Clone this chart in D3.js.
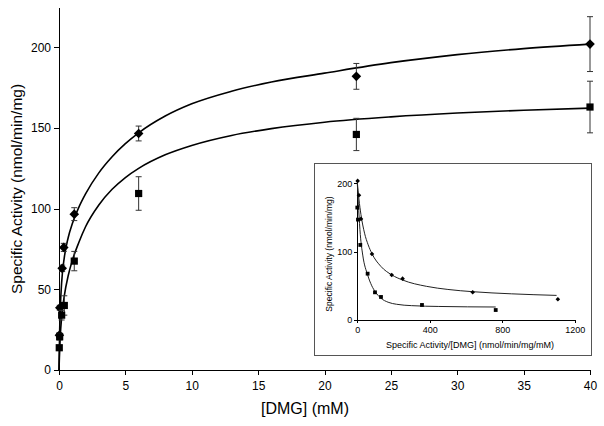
<!DOCTYPE html>
<meta charset="utf-8">
<body style="margin:0;background:#fff">
<script src="https://cdn.jsdelivr.net/npm/d3@7"></script>

<style>
text { font-family: "Liberation Sans", Arial, sans-serif; fill: #000; }
.axis path, .axis line { stroke: #000; stroke-width: 1; shape-rendering: crispEdges; }
.axis text { font-size: 12px; }
.inset .axis text { font-size: 9px; }
</style>

<svg id="thesvg" width="604" height="426"></svg>

<script>
// main plot: activity vs [DMG]
var dmgDiamond = [0.03, 0.06, 0.24, 0.36, 1.15, 6, 22.4, 40];
var actDiamond = [21.6, 38.6, 63, 76, 96.6, 146.6, 182, 202];
var errDiamond = [1.5, 1.5, 2, 2.5, 4, 4.6, 8, 17];

var dmgSquare = [0.02, 0.05, 0.2, 0.4, 1.15, 6, 22.4, 40];
var actSquare = [13.8, 20.6, 34, 40, 67.5, 109.4, 146, 163];
var errSquare = [1.5, 2, 3, 6, 6, 10.4, 10, 16];

// fitted curves
var fitDmg = [0, 0.05, 0.1, 0.2, 0.4, 0.7, 1, 1.5, 2, 3, 4, 5, 6, 8, 10, 13, 16, 20, 25, 30, 35, 40];
var fitAct1 = [0, 24.6, 38.6, 54.3, 69.8, 82.3, 90.6, 101, 109.2, 122.2, 132.2, 140.3, 147, 157.4, 165, 172.8, 178.5, 184, 190.5, 195.5, 199.2, 202];
var fitAct2 = [0, 13.1, 21.6, 32.7, 46, 58.7, 67.8, 79.2, 88.8, 102.3, 112, 119.3, 125, 133.4, 139.2, 145.4, 149.6, 153.6, 156.9, 159.3, 161, 162.3];

var xTicks = [0, 5, 10, 15, 20, 25, 30, 35, 40];
var yTicks = [0, 50, 100, 150, 200];

// inset: Eadie-Hofstee
var ehxDiamond = [2, 9.2, 20.3, 81, 190, 250, 637, 1107];
var ehyDiamond = [203.5, 182.5, 147.9, 96.6, 65.9, 60.5, 40.5, 30.3];
var ehxSquare = [0, 3.7, 16.6, 57, 97.6, 130.8, 357, 764];
var ehySquare = [164.5, 146.9, 109.8, 67.8, 40.5, 33.7, 22, 14.6];

var ehFitX1 = [0, 9, 20, 40, 60, 81, 130, 190, 250, 383, 500, 637, 850, 1100];
var ehFitY1 = [202, 177, 154.5, 127, 110, 97, 78.5, 66, 58.5, 49.2, 44.7, 41.4, 38.3, 36];
var ehFitX2 = [0, 8, 16.6, 30, 57, 80, 100, 130, 170, 217, 300, 450, 764];
var ehFitY2 = [200, 160, 125, 95, 66, 50, 41, 32, 26, 23, 21, 19.8, 19];

var ehxTicks = [0, 400, 800, 1200];
var ehyTicks = [0, 100, 200];

var tr = function(w, h, ang){
  ang = ang || 0
  return "translate(" + w + "," + h + ") rotate(" + ang + ")"
}

var svg = d3.select('#thesvg');

var x = d3.scaleLinear().domain([0, 40]).range([59, 590]);
var y = d3.scaleLinear().domain([0, 225]).range([370, 7]);

svg.append('g').attr('class', 'axis')
   .attr('transform', tr(0, 370))
   .call(d3.axisBottom(x).tickValues(xTicks).tickSize(5).tickSizeOuter(0).tickPadding(6));

svg.append('g').attr('class', 'axis')
   .attr('transform', tr(59, 0))
   .call(d3.axisLeft(y).tickValues(yTicks).tickSize(5).tickSizeOuter(0).tickPadding(3));

svg.selectAll('.axis text').attr('font-family', null);

svg.append('text').attr('transform', tr(22, 189, -90))
   .attr('text-anchor', 'middle').style('font-size', '15.5px')
   .text('Specific Activity (nmol/min/mg)');

svg.append('text').attr('transform', tr(305, 414))
   .attr('text-anchor', 'middle').style('font-size', '16px')
   .text('[DMG] (mM)');

var zipped = function(xs, ys){ return xs.map(function(d, i){ return [d, ys[i]] }) }

var line = d3.line().x(function(d){ return x(d[0]) }).y(function(d){ return y(d[1]) })
             .curve(d3.curveMonotoneX);

[fitAct1, fitAct2].forEach(function(c){
  svg.append('path').attr('d', line(zipped(fitDmg, c)))
     .attr('fill', 'none').attr('stroke', '#000').attr('stroke-width', 1.6);
});

var diamond = function(r){ return 'M0,' + (-r) + 'L' + r + ',0L0,' + r + 'L' + (-r) + ',0Z' }
var square = function(r){ return 'M' + (-r) + ',' + (-r) + 'h' + (2*r) + 'v' + (2*r) + 'h' + (-2*r) + 'Z' }

var drawSeries = function(xs, ys, es, shape){
  var g = svg.append('g');
  xs.forEach(function(d, i){
    var cx = x(d), y0 = y(ys[i] - es[i]), y1 = y(ys[i] + es[i]);
    g.append('path')
     .attr('d', 'M' + cx + ',' + y0 + 'V' + y1 + 'M' + (cx - 3) + ',' + y0 + 'h6M' + (cx - 3) + ',' + y1 + 'h6')
     .attr('stroke', '#333').attr('stroke-width', 1).attr('fill', 'none');
  });
  xs.forEach(function(d, i){
    g.append('path').attr('d', shape).attr('transform', tr(x(d), y(ys[i])))
     .attr('fill', '#000');
  });
}

drawSeries(dmgDiamond, actDiamond, errDiamond, diamond(4.8));
drawSeries(dmgSquare, actSquare, errSquare, square(3.6));

// inset
var inset = svg.append('g').attr('class', 'inset');
inset.append('rect').attr('x', 314.5).attr('y', 163.5).attr('width', 277).attr('height', 192)
     .attr('fill', '#fff').attr('stroke', '#555').attr('stroke-width', 1);

var ix = d3.scaleLinear().domain([0, 1200]).range([357.3, 574.7]);
var iy = d3.scaleLinear().domain([0, 200]).range([320, 183.3]);

inset.append('g').attr('class', 'axis')
     .attr('transform', tr(0, 320))
     .call(d3.axisBottom(ix).tickValues(ehxTicks).tickFormat(d3.format('d'))
             .tickSize(3).tickSizeOuter(0).tickPadding(4));
inset.append('g').attr('class', 'axis')
     .attr('transform', tr(357.3, 0))
     .call(d3.axisLeft(iy).tickValues(ehyTicks).tickSize(3).tickSizeOuter(0).tickPadding(2));
inset.selectAll('.axis text').attr('font-family', null);

inset.append('text').attr('transform', tr(332, 254, -90))
     .attr('text-anchor', 'middle').style('font-size', '8.5px')
     .text('Specific Activity (nmol/min/mg)');
inset.append('text').attr('transform', tr(470, 348))
     .attr('text-anchor', 'middle').style('font-size', '9px')
     .text('Specific Activity/[DMG] (nmol/min/mg/mM)');

var iline = d3.line().x(function(d){ return ix(d[0]) }).y(function(d){ return iy(d[1]) })
              .curve(d3.curveMonotoneX);

[[ehFitX1, ehFitY1], [ehFitX2, ehFitY2]].forEach(function(c){
  inset.append('path').attr('d', iline(zipped(c[0], c[1])))
       .attr('fill', 'none').attr('stroke', '#222').attr('stroke-width', 1);
});

ehxDiamond.forEach(function(d, i){
  inset.append('path').attr('d', diamond(2.3)).attr('transform', tr(ix(d), iy(ehyDiamond[i]))).attr('fill', '#000');
});
ehxSquare.forEach(function(d, i){
  inset.append('path').attr('d', square(1.9)).attr('transform', tr(ix(d), iy(ehySquare[i]))).attr('fill', '#000');
});
</script>
</body>
